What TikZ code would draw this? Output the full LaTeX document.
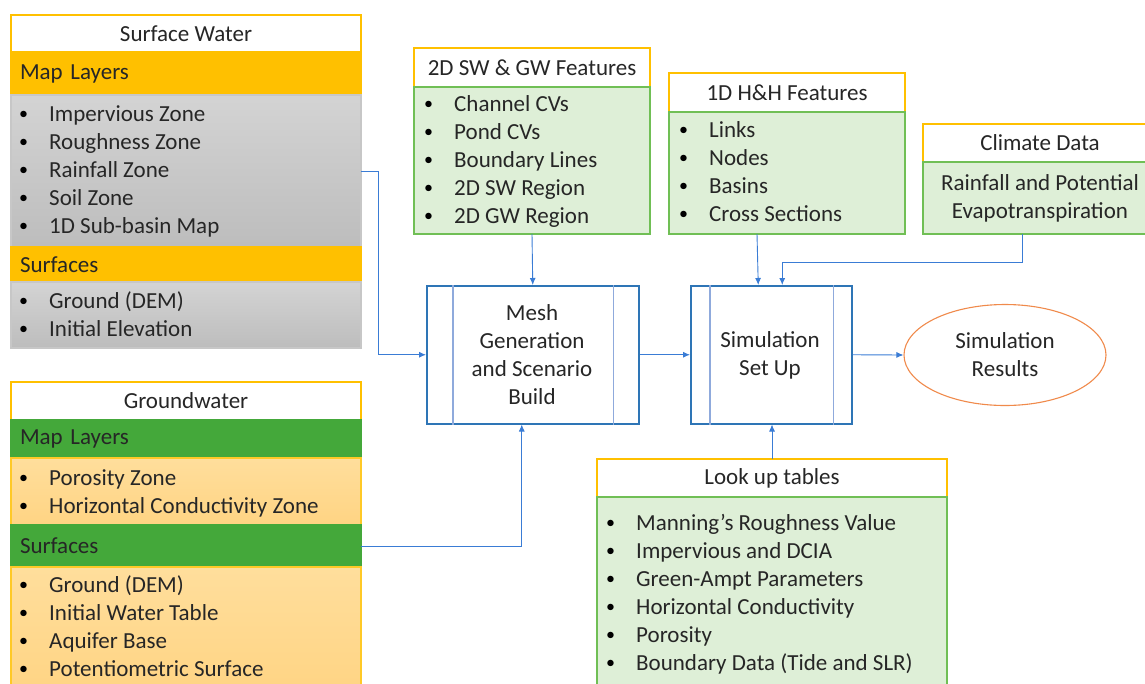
\documentclass[tikz,border=0pt]{standalone}
\usepackage{fontspec}
\setmainfont{Carlito}
\usetikzlibrary{arrows.meta,shapes.geometric,calc}
\definecolor{txt}{HTML}{262626}
\definecolor{gold}{HTML}{FFC000}
\definecolor{ggreen}{HTML}{44A83A}
\definecolor{lgreen}{HTML}{DEEFD7}
\definecolor{bgreen}{HTML}{70BF55}
\definecolor{bblue}{HTML}{2E75B6}
\definecolor{iblue}{HTML}{8FAADC}
\definecolor{cblue}{HTML}{3A7CD5}
\definecolor{eorange}{HTML}{F08A4B}
\definecolor{lotop}{HTML}{FFDE9C}
\definecolor{lobot}{HTML}{FFD483}
\newcommand\fs{\fontsize{23}{28}\selectfont}
\newcommand\bul{\makebox[30pt][l]{\raisebox{1.6pt}{\fontsize{18}{18}\selectfont\color{black}\textbullet}}}
\newcommand\blist[4]{\foreach \t [count=\i] in {#4} {\node[item] (#1\i) at (#2,{#3+28*(\i-1)}) {\bul\t};}}
\tikzset{
  part/.style={inner sep=0pt, outer sep=0pt, anchor=north west, line width=1.1pt, font=\fs, text=txt},
  ttl/.style={part, fill=white, draw=gold},
  hdrO/.style={part, fill=gold, draw=gold, align=left, inner xsep=9pt},
  hdrG/.style={part, fill=ggreen, draw=ggreen, align=left, inner xsep=9pt},
  grayb/.style={part, top color=black!17, bottom color=black!26, draw=black!22},
  lorange/.style={part, top color=lotop, bottom color=lobot, draw=gold!85},
  lgbox/.style={part, fill=lgreen, draw=bgreen},
  item/.style={anchor=west, inner sep=0pt, text height=14pt, text depth=0pt, font=\fs, text=txt},
  proc/.style={draw=bblue, line width=1.5pt, inner sep=0pt, anchor=north west, fill=white},
  inner/.style={draw=iblue, line width=1.8pt},
  ctext/.style={align=center, font=\fs, text=txt, inner sep=0pt},
  arr/.style={draw=cblue, line width=0.9pt, -{Latex[length=7pt,width=6pt]}},
}
\begin{document}
\begin{tikzpicture}[x=1pt,y=-1pt]
\useasboundingbox (0,0) rectangle (1145,683);
\clip (0,0) rectangle (1145,683);
% Surface water
\node[ttl, minimum width=350pt, minimum height=37pt] (swT) at (11,15) {Surface Water};
\node[hdrO, minimum width=350pt, minimum height=43pt, text width=332pt] (swH1) at (11,52) {Map Layers};
\node[grayb, minimum width=350pt, minimum height=152pt] (swL1) at (11,95) {};
\node[hdrO, minimum width=350pt, minimum height=35pt, text width=332pt] (swH2) at (11,247) {Surfaces};
\node[grayb, minimum width=350pt, minimum height=66pt] (swL2) at (11,282) {};
\blist{swa}{19}{114}{Impervious Zone, Roughness Zone, Rainfall Zone, Soil Zone, 1D Sub-basin Map}
\blist{swb}{19}{301}{{Ground (DEM)}, Initial Elevation}
% Groundwater
\node[ttl, minimum width=350pt, minimum height=38pt] (gwT) at (11,382) {Groundwater};
\node[hdrG, minimum width=350pt, minimum height=38pt, text width=332pt] (gwH1) at (11,420) {Map Layers};
\node[lorange, minimum width=350pt, minimum height=67pt] (gwL1) at (11,458) {};
\node[hdrG, minimum width=350pt, minimum height=42pt, text width=332pt] (gwH2) at (11,525) {Surfaces};
\node[lorange, minimum width=350pt, minimum height=130pt] (gwL2) at (11,567) {};
\blist{gwa}{19}{478}{Porosity Zone, Horizontal Conductivity Zone}
\blist{gwb}{19}{585}{{Ground (DEM)}, Initial Water Table, Aquifer Base, Potentiometric Surface}
% 2D features
\node[ttl, minimum width=236pt, minimum height=39pt] (fT) at (414,48) {2D SW \& GW Features};
\node[lgbox, minimum width=236pt, minimum height=147pt] (fL) at (414,87) {};
\blist{fa}{424}{104}{Channel CVs, Pond CVs, Boundary Lines, 2D SW Region, 2D GW Region}
% 1D features
\node[ttl, minimum width=236pt, minimum height=39pt] (hT) at (669,73) {1D H\&H Features};
\node[lgbox, minimum width=236pt, minimum height=122pt] (hL) at (669,112) {};
\blist{ha}{679}{130}{Links, Nodes, Basins, Cross Sections}
% Climate
\node[ttl, minimum width=224pt, minimum height=38pt] (cT) at (923,124) {};
\node[lgbox, minimum width=224pt, minimum height=72pt] (cL) at (923,162) {};
\node[ctext] (cTt) at (1040,143) {Climate Data};
\node[ctext] (cLt) at (1040,198) {Rainfall and Potential\\Evapotranspiration};
% Lookup
\node[ttl, minimum width=350pt, minimum height=38pt] (lT) at (597,459) {Look up tables};
\node[lgbox, minimum width=350pt, minimum height=200pt] (lL) at (597,497) {};
\blist{la}{606}{523}{Manning’s Roughness Value, Impervious and DCIA, Green-Ampt Parameters, Horizontal Conductivity, Porosity, Boundary Data (Tide and SLR)}
% Processes
\node[proc, minimum width=212pt, minimum height=138pt] (mesh) at (426,285) {};
\draw[inner] ([xshift=27pt]mesh.north west) -- ([xshift=27pt]mesh.south west);
\draw[inner] ([xshift=-26pt]mesh.north east) -- ([xshift=-26pt]mesh.south east);
\node[ctext] (meshT) at (532,355) {Mesh\\Generation\\and Scenario\\Build};
\node[proc, minimum width=161pt, minimum height=138pt] (sim) at (690,285) {};
\draw[inner] ([xshift=20pt]sim.north west) -- ([xshift=20pt]sim.south west);
\draw[inner] ([xshift=-19pt]sim.north east) -- ([xshift=-19pt]sim.south east);
\node[ctext] (simT) at (770,355) {Simulation\\Set Up};
\node[ellipse, draw=eorange, line width=1.1pt, fill=white, minimum width=202pt, minimum height=101pt, inner sep=0pt] (res) at (1005,355) {};
\node[ctext] (resT) at (1005,355) {Simulation\\Results};
% Connectors
\draw[arr] (swL1.east) -- ++(17,0) |- (mesh.west);
\draw[arr] (gwH2.east) -| ([xshift=-11pt]mesh.south);
\draw[arr] (fL.south) -- (mesh.north);
\draw[arr] ([xshift=-30pt]hL.south) -- ([xshift=-13pt]sim.north);
\draw[arr] ([xshift=-13pt]cL.south) -- ++(0,28) -| ([xshift=11pt]sim.north);
\draw[arr] (mesh.east) -- (sim.west);
\draw[arr] (sim.east) -- (res.west);
\draw[arr] (lT.north) -- (lT.north |- sim.south);
\end{tikzpicture}
\end{document}
